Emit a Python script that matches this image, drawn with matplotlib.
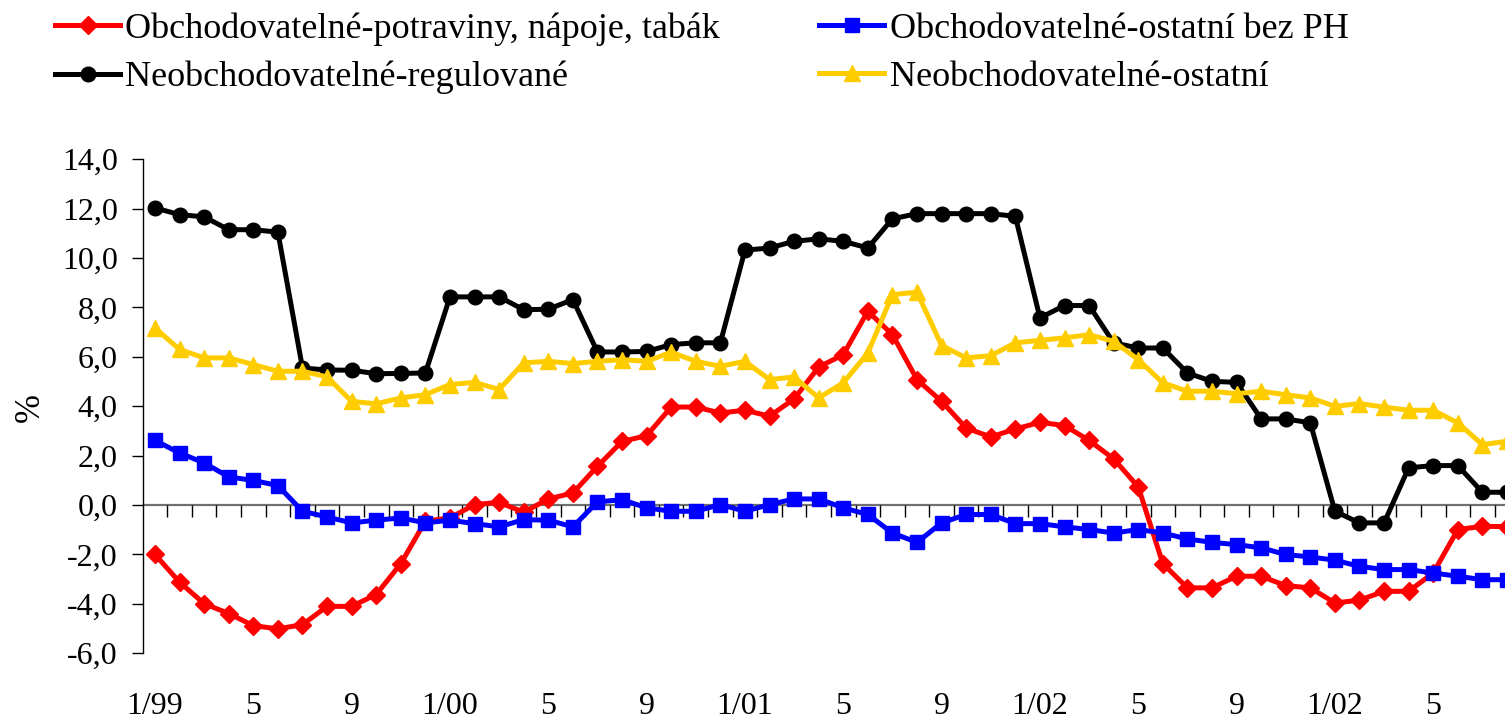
import matplotlib
matplotlib.use("Agg")
import matplotlib.pyplot as plt
import matplotlib.transforms as mtransforms

plt.rcParams['font.family'] = ['Liberation Serif', 'DejaVu Serif']

# months 1/1999 .. 8/2003 (index 0..55)
tick_positions = [0, 4, 8, 12, 16, 20, 24, 28, 32, 36, 40, 44, 48, 52]
tick_labels = ["1/99", "5", "9", "1/00", "5", "9", "1/01", "5", "9",
               "1/02", "5", "9", "1/02", "5"]

food = [-2.00, -3.12, -3.99, -4.39, -4.88, -5.01, -4.84, -4.10, -4.10, -3.62,
        -2.37, -0.65, -0.52, 0.02, 0.11, -0.29, 0.25, 0.49, 1.57, 2.58,
        2.81, 3.97, 3.97, 3.73, 3.84, 3.60, 4.30, 5.59, 6.09, 7.85,
        6.90, 5.08, 4.20, 3.12, 2.76, 3.08, 3.35, 3.22, 2.62, 1.87,
        0.74, -2.37, -3.35, -3.35, -2.88, -2.88, -3.26, -3.35, -3.96, -3.85,
        -3.49, -3.49, -2.75, -0.99, -0.86, -0.87]

other_tradable = [2.62, 2.11, 1.71, 1.14, 1.00, 0.79, -0.25, -0.48, -0.72, -0.61,
                  -0.52, -0.72, -0.61, -0.75, -0.88, -0.59, -0.61, -0.88, 0.13, 0.22,
                  -0.11, -0.25, -0.25, 0.02, -0.25, 0.02, 0.25, 0.25, -0.11, -0.38,
                  -1.13, -1.51, -0.72, -0.38, -0.38, -0.75, -0.75, -0.88, -0.99, -1.13,
                  -0.99, -1.13, -1.37, -1.51, -1.60, -1.73, -2.00, -2.10, -2.23, -2.48,
                  -2.61, -2.61, -2.75, -2.88, -3.02, -3.02]

regulated = [12.03, 11.76, 11.67, 11.15, 11.15, 11.05, 5.55, 5.47, 5.46, 5.32,
             5.33, 5.35, 8.43, 8.43, 8.43, 7.91, 7.93, 8.32, 6.20, 6.20,
             6.22, 6.50, 6.57, 6.57, 10.32, 10.41, 10.68, 10.78, 10.68, 10.41,
             11.59, 11.80, 11.80, 11.80, 11.80, 11.69, 7.58, 8.08, 8.08, 6.57,
             6.36, 6.36, 5.35, 5.01, 4.97, 3.49, 3.49, 3.33, -0.25, -0.72,
             -0.72, 1.51, 1.60, 1.60, 0.52, 0.52]

nontradable_other = [7.17, 6.30, 5.96, 5.96, 5.69, 5.42, 5.42, 5.19, 4.20, 4.10,
                     4.34, 4.47, 4.88, 4.97, 4.68, 5.76, 5.82, 5.73, 5.82, 5.89,
                     5.82, 6.19, 5.82, 5.62, 5.82, 5.08, 5.19, 4.34, 4.95, 6.16,
                     8.52, 8.62, 6.46, 5.96, 6.05, 6.57, 6.67, 6.77, 6.90, 6.63,
                     5.89, 4.95, 4.61, 4.61, 4.51, 4.61, 4.47, 4.34, 4.00, 4.11,
                     3.97, 3.84, 3.84, 3.33, 2.45, 2.58]

names = ["Obchodovatelné-potraviny, nápoje, tabák",
         "Obchodovatelné-ostatní bez PH",
         "Neobchodovatelné-regulované",
         "Neobchodovatelné-ostatní"]

y_ticks = [14, 12, 10, 8, 6, 4, 2, 0, -2, -4, -6]

W, H = 1505, 728
fig = plt.figure(figsize=(W / 100, H / 100), dpi=100)
ax_left, ax_right = 142.7 / W, 1.0
ax_top, ax_bot = 1 - 159.3 / H, 1 - 653.3 / H
ax = fig.add_axes([ax_left, ax_bot, ax_right - ax_left, ax_top - ax_bot])

x = list(range(len(food)))
lw = 3.6
ms = 10.5
l1, = ax.plot(x, food, color='#FF0000', lw=lw, marker='D', ms=ms * 0.85, zorder=3)
l2, = ax.plot(x, other_tradable, color='#0000FF', lw=lw, marker='s', ms=ms * 0.95, zorder=3)
l3, = ax.plot(x, regulated, color='#000000', lw=lw, marker='o', ms=ms, zorder=4)
l4, = ax.plot(x, nontradable_other, color='#FFCC00', lw=lw, marker='^', ms=ms * 1.05, zorder=5)

ax.set_xlim(-0.5, 54.92)
ax.set_ylim(-6, 14)

# spines
for s in ['top', 'right', 'bottom']:
    ax.spines[s].set_visible(False)
ax.spines['left'].set_linewidth(1.0)

# y ticks
ax.set_yticks(y_ticks)
ax.set_yticklabels([f"{v:.1f}".replace('.', ',') for v in y_ticks], fontsize=23)
ax.tick_params(axis='y', direction='out', length=8, width=1.0, pad=10)

# zero line with category tick marks
ax.axhline(0, color='#707070', lw=1.6, zorder=1)
ax.set_xticks([])
trans = mtransforms.blended_transform_factory(ax.transData, ax.transAxes)
zero_frac = (0 - (-6)) / 20.0
tick_len = 12 / (653.3 - 159.3)
ax.vlines([i + 0.5 for i in range(len(food))], zero_frac - tick_len, zero_frac,
          transform=trans, color='#000000', lw=1.0, zorder=1)

for pos, lab in zip(tick_positions, tick_labels):
    ax.text(pos, -0.107, lab, transform=trans, ha='center', va='center',
            fontsize=23, clip_on=False)

ax.set_ylabel('%', fontsize=25)
ax.yaxis.set_label_coords(-0.070, 0.497)

leg = fig.legend([l1, l3, l2, l4], [names[0], names[2], names[1], names[3]],
                 ncol=2, loc='upper left', bbox_to_anchor=(55 / W, 1 - 12 / H),
                 frameon=False, fontsize=26, handlelength=1.8, handletextpad=0.15,
                 columnspacing=2.75, labelspacing=0.42, borderpad=0, borderaxespad=0)

fig.savefig('out.png', dpi=100)
